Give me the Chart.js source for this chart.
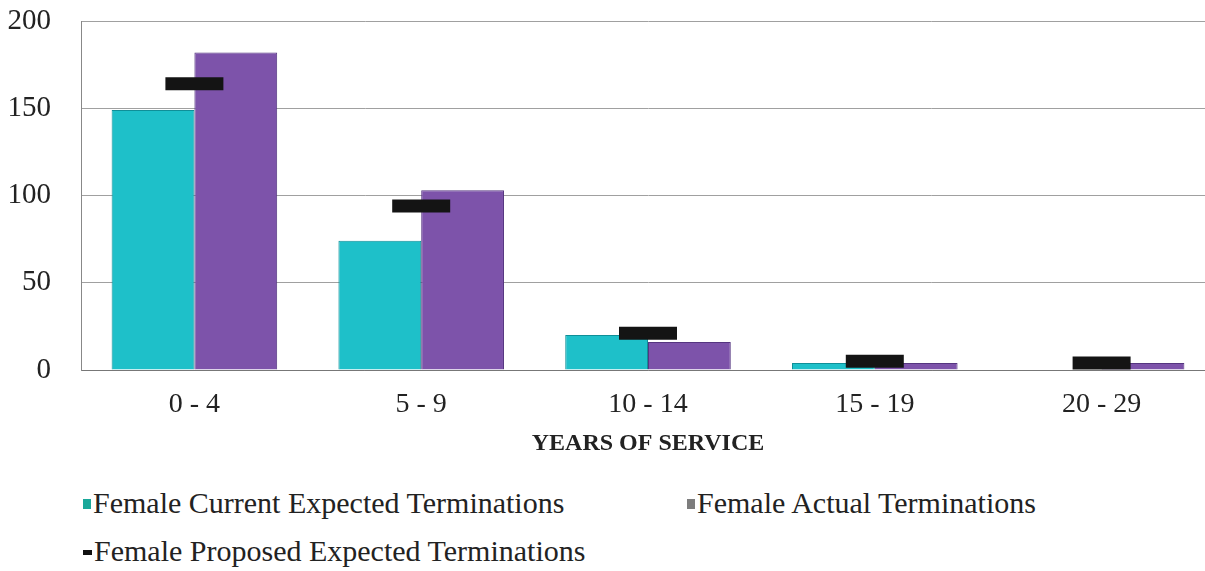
<!DOCTYPE html>
<html>
<head>
<meta charset="utf-8">
<script src="https://cdn.jsdelivr.net/npm/chart.js@4.4.1/dist/chart.umd.min.js"></script>
<style>
  html,body{margin:0;padding:0;background:#fff;overflow:hidden;width:1205px;height:571px;}
  #wrap{position:absolute;left:0;top:0;width:1215px;height:460px;}
  .leg{position:absolute;font-family:"Liberation Serif","Times New Roman",serif;font-size:30px;color:#222;white-space:nowrap;line-height:32px;}
  .sw{display:inline-block;vertical-align:middle;margin-right:2px;position:relative;top:-2px;}
</style>
</head>
<body>
<div id="wrap"><canvas id="c"></canvas></div>
<div class="leg" style="left:83px;top:487px;"><span class="sw" style="width:8px;height:10px;background:#1aa89a;"></span>Female Current Expected Terminations</div>
<div class="leg" style="left:687px;top:487px;"><span class="sw" style="width:8px;height:10px;background:#7d7d7d;"></span>Female Actual Terminations</div>
<div class="leg" style="left:83px;top:535px;"><span class="sw" style="width:9px;height:5px;background:#111;"></span>Female Proposed Expected Terminations</div>
<script>
const categories = ['0 - 4', '5 - 9', '10 - 14', '15 - 19', '20 - 29'];
const currentExpected = [149, 74, 20, 4, 0];
const actual = [182, 103, 16, 4, 4];
const proposedExpected = [164, 94, 21, 5, 4];
const yTicks = [0, 50, 100, 150, 200];

const serif = '"Liberation Serif","Times New Roman",serif';

new Chart(document.getElementById('c'), {
  data: {
    labels: categories,
    datasets: [
      {
        type: 'line',
        label: 'Female Proposed Expected Terminations',
        data: proposedExpected,
        showLine: false,
        pointStyle: 'line',
        pointRadius: 29,
        pointHoverRadius: 29,
        pointBorderWidth: 13,
        pointHoverBorderWidth: 13,
        borderColor: '#141414',
        backgroundColor: '#141414',
        clip: false,
        order: 0
      },
      {
        type: 'bar',
        label: 'Female Current Expected Terminations',
        data: currentExpected,
        backgroundColor: '#1ec0c9',
        borderColor: '#0f8f98',
        borderWidth: 1,
        categoryPercentage: 0.73,
        barPercentage: 1,
        order: 1
      },
      {
        type: 'bar',
        label: 'Female Actual Terminations',
        data: actual,
        backgroundColor: '#7d53aa',
        borderColor: '#553580',
        borderWidth: 1,
        categoryPercentage: 0.73,
        barPercentage: 1,
        order: 2
      }
    ]
  },
  options: {
    responsive: true,
    maintainAspectRatio: false,
    animation: false,
    layout: { autoPadding: false, padding: { top: 21, right: 0, bottom: 0, left: 0 } },
    plugins: { legend: { display: false }, tooltip: { enabled: false } },
    scales: {
      x: {
        grid: { display: false, drawTicks: false },
        border: { display: true, color: '#777', width: 1 },
        ticks: { font: { family: serif, size: 28 }, color: '#222', padding: 18, maxRotation: 0 },
        title: { display: true, text: 'YEARS OF SERVICE', font: { family: serif, size: 24, weight: 'bold' }, color: '#222', padding: { top: 2, bottom: 2 } },
        afterFit: (s) => { s.height = 90; s.paddingLeft = 0; s.paddingRight = 0; }
      },
      y: {
        min: 0, max: 200,
        afterBuildTicks: (s) => { s.ticks = yTicks.map(v => ({ value: v })); },
        grid: { color: '#a0a0a0', lineWidth: 1, drawTicks: false },
        border: { display: true, color: '#888', width: 1 },
        ticks: { font: { family: serif, size: 29 }, color: '#222', padding: 30 },
        afterFit: (s) => { s.width = 81; s.paddingTop = 0; s.paddingBottom = 0; }
      }
    }
  }
});
</script>
</body>
</html>
